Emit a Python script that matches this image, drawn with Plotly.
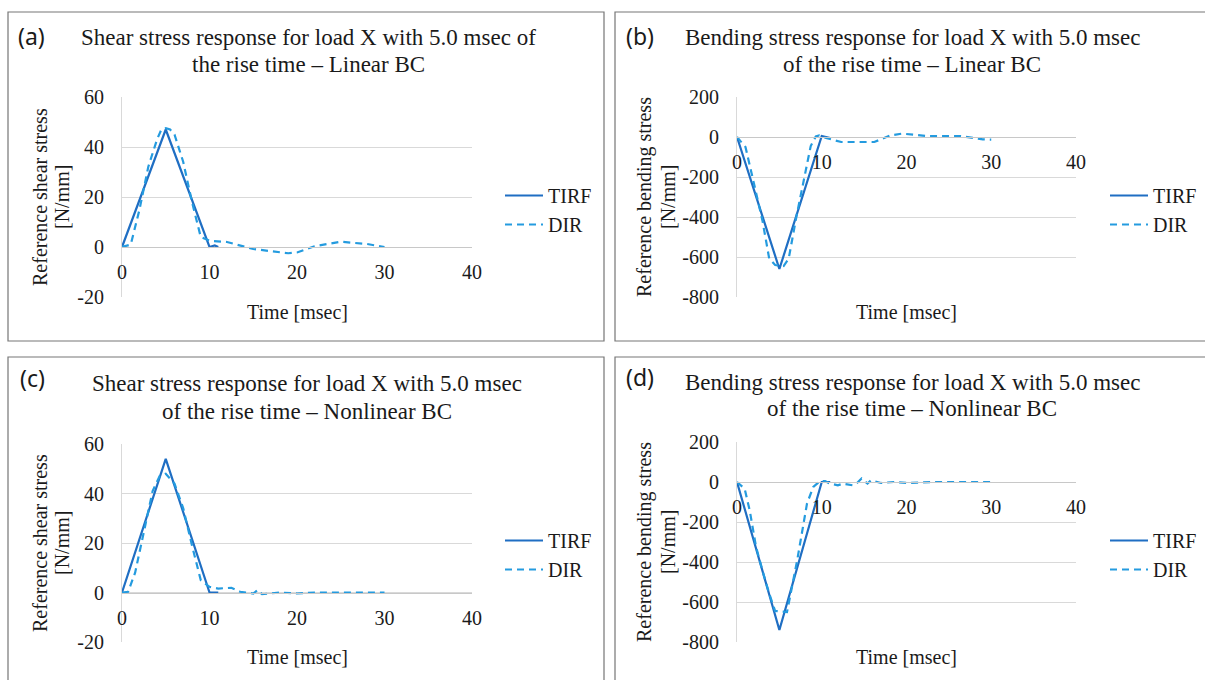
import plotly.graph_objects as go

W, H = 1205, 680

# ---------------- data ----------------
# (a) shear, linear BC
tirf_a_t = [0, 5, 10, 10.6, 11]
tirf_a = [0, 47, 0, 0.6, 0]
dir_a_t = [0, 1, 2, 3, 4, 4.5, 5, 5.5, 6, 7, 8, 9, 10, 12, 15, 17, 19, 20, 22, 25, 28, 30]
dir_a = [0, 1, 15, 32, 43, 47, 47.5, 47, 45, 34, 18, 4, 2.5, 2, -0.8, -1.5, -2.5, -2.2, 0.3, 2.1, 1.2, 0]

# (b) bending, linear BC
tirf_b_t = [0, 5, 10, 11]
tirf_b = [0, -660, 5, -5]
dir_b_t = [0, 1, 2, 3, 3.8, 4.5, 5.5, 6.1, 7, 8, 8.7, 9.3, 9.7, 10.5, 12.3, 14, 16.2, 18.1, 19.5, 22.4, 26.3, 29, 30]
dir_b = [0, -50, -233, -417, -608, -640, -645, -608, -400, -195, -45, 3, 8, -5, -25, -25, -25, 8, 17, 5, 5, -12, -13]

# (c) shear, nonlinear BC
tirf_c_t = [0, 5, 10, 11]
tirf_c = [0, 54, 0, 0]
dir_c_t = [0, 0.7, 1.5, 2.5, 3.5, 4.3, 5, 6, 7, 8, 9, 10, 11, 12.5, 13.5, 15, 15.5, 16, 18, 20, 22, 25, 28, 30]
dir_c = [0, 0.3, 8, 24, 41, 47, 48, 44, 34, 19, 5, 2.3, 1.6, 1.9, 0.3, -0.4, 1, -0.7, 0, -0.4, 0, 0, 0, 0]

# (d) bending, nonlinear BC
tirf_d_t = [0, 5, 10, 11]
tirf_d = [0, -740, 0, 0]
dir_d_t = [0, 0.9, 1.5, 2.25, 3.0, 3.8, 4.5, 5.9, 6.1, 7.1, 8.26, 9.0, 9.8, 10.4, 10.8, 11.9, 12.5, 13.7, 14.1, 14.7, 15.4, 15.8, 17, 18.5, 20, 23.2, 26, 30]
dir_d = [0, -33, -142, -325, -442, -558, -645, -650, -608, -392, -108, -25, 5, 5, -5, -17, -8, -17, -8, 18, -8, 8, -5, 0, -5, 0, 0, 0]

x_ticks = [0, 10, 20, 30, 40]
x_labels = ["0", "10", "20", "30", "40"]
shear_ticks = [-20, 0, 20, 40, 60]
shear_labels = ["-20", "0", "20", "40", "60"]
bend_ticks = [-800, -600, -400, -200, 0, 200]
bend_labels = ["-800", "-600", "-400", "-200", "0", "200"]

series_names = ["TIRF", "DIR"]
panel_labels = ["(a)", "(b)", "(c)", "(d)"]
titles = [
    ("Shear stress response for load X with 5.0 msec of", "the rise time – Linear BC"),
    ("Bending stress response for load X with 5.0 msec", "of the rise time – Linear BC"),
    ("Shear stress response for load X with 5.0 msec", "of the rise time – Nonlinear BC"),
    ("Bending stress response for load X with 5.0 msec", "of the rise time – Nonlinear BC"),
]
y_titles = [
    ("Reference shear stress", "[N/mm]"),
    ("Reference bending stress", "[N/mm]"),
    ("Reference shear stress", "[N/mm]"),
    ("Reference bending stress", "[N/mm]"),
]
x_title = "Time [msec]"

# ---------------- style ----------------
SERIF = "Liberation Serif, Times New Roman, serif"
SANS = "Noto Sans, Open Sans, sans-serif"
TXT = "#1a1a1a"
C_TIRF = "#1F6EC3"
C_DIR = "#249BDF"
GRID = "#D9D9D9"


def px(x):
    return x / W


def py(y):
    return 1 - y / H


# plot-area pixel boxes: (left, right, top, bottom)
boxes = [
    (122, 472, 97, 297),
    (737, 1076, 97, 297),
    (122, 472, 444, 642),
    (737, 1076, 442, 642),
]
frames = [(8, 604, 12, 341), (615, 1215, 12, 341), (8, 604, 357, 700), (615, 1215, 357, 700)]
ranges = [(-20, 60), (-800, 200), (-20, 60), (-800, 200)]
yticks = [(shear_ticks, shear_labels), (bend_ticks, bend_labels), (shear_ticks, shear_labels), (bend_ticks, bend_labels)]
data = [
    (tirf_a_t, tirf_a, dir_a_t, dir_a),
    (tirf_b_t, tirf_b, dir_b_t, dir_b),
    (tirf_c_t, tirf_c, dir_c_t, dir_c),
    (tirf_d_t, tirf_d, dir_d_t, dir_d),
]
title_pos = [(308, 37, 64), (912, 37, 64), (307, 383, 411), (912, 382, 408)]
label_pos = [(31, 36), (640, 36), (32, 378), (640, 377)]
ytitle_x = [(40, 62), (644, 668), (40, 62), (644, 668)]
xtitle_y = [312, 312, 657, 657]
legend_pos = [(500, 176), (1105, 176), (500, 521), (1105, 521)]

fig = go.Figure()
layout = dict(
    width=W, height=H, autosize=False,
    margin=dict(l=0, r=0, t=0, b=0, pad=0, autoexpand=False),
    paper_bgcolor="white", plot_bgcolor="white",
    font=dict(family=SERIF, size=20, color=TXT),
    annotations=[], shapes=[],
)


def ann(text, x, y, font, angle=0):
    return dict(text=text, x=px(x), y=py(y), xref="paper", yref="paper",
                xanchor="center", yanchor="middle", showarrow=False,
                textangle=angle, font=font)


for i in range(4):
    n = "" if i == 0 else str(i + 1)
    l, r, t, b = boxes[i]
    ymin, ymax = ranges[i]
    y0, y1 = py(b), py(t)
    xpos = y0 + (0 - ymin) / (ymax - ymin) * (y1 - y0)
    leg = "legend" + n
    tt, tv, dt, dv = data[i]
    fig.add_trace(go.Scatter(x=tt, y=tv, mode="lines", name=series_names[0],
                             line=dict(color=C_TIRF, width=2.2),
                             xaxis="x" + n, yaxis="y" + n, legend=leg))
    fig.add_trace(go.Scatter(x=dt, y=dv, mode="lines", name=series_names[1],
                             line=dict(color=C_DIR, width=2.2, dash="7px,5px"),
                             xaxis="x" + n, yaxis="y" + n, legend=leg))
    layout["xaxis" + n] = dict(
        domain=[px(l), px(r)], range=[0, 40], anchor="free", position=xpos,
        tickvals=x_ticks, ticktext=x_labels, ticks="outside", ticklen=7,
        tickcolor="rgba(0,0,0,0)", showgrid=False, zeroline=False,
        showline=True, linecolor="#C8C8C8", linewidth=1.2, automargin=False,
        tickfont=dict(family=SERIF, size=20, color=TXT), fixedrange=True,
    )
    layout["yaxis" + n] = dict(
        domain=[y0, y1], range=[ymin, ymax], anchor="x" + n,
        tickvals=yticks[i][0], ticktext=yticks[i][1], ticks="outside", ticklen=13,
        tickcolor="rgba(0,0,0,0)", showgrid=True, gridcolor=GRID, gridwidth=1.2,
        zeroline=False, showline=True, linecolor=GRID, linewidth=1.2, automargin=False,
        tickfont=dict(family=SERIF, size=20, color=TXT), fixedrange=True,
    )
    lx, ly = legend_pos[i]
    layout[leg] = dict(x=px(lx), y=py(ly), xanchor="left", yanchor="top",
                       bgcolor="rgba(0,0,0,0)", font=dict(family=SERIF, size=20, color=TXT),
                       itemwidth=38, tracegroupgap=0)
    # frame
    fl, fr, ft, fb = frames[i]
    layout["shapes"].append(dict(type="rect", xref="paper", yref="paper",
                                 x0=px(fl), x1=px(fr), y0=py(fb), y1=py(ft),
                                 line=dict(color="#767676", width=1.2), layer="below"))
    # titles (two separate lines for tight spacing)
    tx, ty1, ty2 = title_pos[i]
    tfont = dict(family=SERIF, size=23, color=TXT)
    layout["annotations"].append(ann(titles[i][0], tx, ty1, tfont))
    layout["annotations"].append(ann(titles[i][1], tx, ty2, tfont))
    lbx, lby = label_pos[i]
    layout["annotations"].append(ann(panel_labels[i], lbx, lby, dict(family=SANS, size=23, color=TXT)))
    afont = dict(family=SERIF, size=20, color=TXT)
    layout["annotations"].append(ann(x_title, (l + r) / 2, xtitle_y[i], afont))
    yx1, yx2 = ytitle_x[i]
    layout["annotations"].append(ann(y_titles[i][0], yx1, (t + b) / 2, afont, -90))
    layout["annotations"].append(ann(y_titles[i][1], yx2, (t + b) / 2, afont, -90))

fig.update_layout(**layout)
fig.write_html("out.html", config={"displayModeBar": False},
               post_script="document.body.style.margin='0px';document.body.style.overflow='hidden';")
